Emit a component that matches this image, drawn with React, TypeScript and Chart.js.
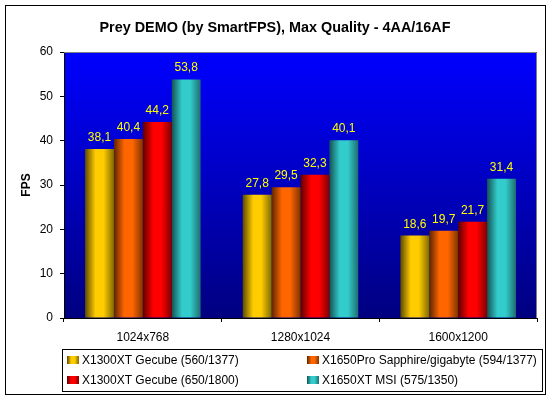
import React, { useEffect, useRef } from "react";
import { Chart, registerables } from "chart.js";

Chart.register(...registerables);

const titleText = "Prey DEMO (by SmartFPS), Max Quality - 4AA/16AF";
const yAxisTitle = "FPS";
const categories = ["1024x768", "1280x1024", "1600x1200"];
const seriesNames = [
  "X1300XT Gecube (560/1377)",
  "X1650Pro Sapphire/gigabyte (594/1377)",
  "X1300XT Gecube (650/1800)",
  "X1650XT MSI (575/1350)",
];
const series1 = [38.1, 27.8, 18.6];
const series2 = [40.4, 29.5, 19.7];
const series3 = [44.2, 32.3, 21.7];
const series4 = [53.8, 40.1, 31.4];
const seriesValues = [series1, series2, series3, series4];
const yTicks = [0, 10, 20, 30, 40, 50, 60];

const brightColors = ["#FFCC00", "#FF6600", "#FF0000", "#33CCCC"];
const leftDark = ["#5C4A00", "#5C2400", "#5C0000", "#145252"];
const rightDark = ["#806A00", "#803300", "#800000", "#1E6E6E"];

const FONT = "'Liberation Sans', Arial, sans-serif";

function barGradient(ctx: CanvasRenderingContext2D, x0: number, w: number, i: number) {
  const g = ctx.createLinearGradient(x0, 0, x0 + w, 0);
  g.addColorStop(0, leftDark[i]);
  g.addColorStop(0.36, brightColors[i]);
  g.addColorStop(0.64, brightColors[i]);
  g.addColorStop(1, rightDark[i]);
  return g;
}

const fmt = (v: number) => v.toFixed(1).replace(".", ",");

const decorPlugin = {
  id: "decor",
  beforeDraw(chart: any) {
    const { ctx, chartArea: a } = chart;
    ctx.save();
    const g = ctx.createLinearGradient(0, a.top, 0, a.bottom);
    g.addColorStop(0, "#0000FF");
    g.addColorStop(1, "#000080");
    ctx.fillStyle = g;
    ctx.fillRect(a.left, a.top, a.right - a.left, a.bottom - a.top);
    // outer border
    ctx.strokeStyle = "#000";
    ctx.lineWidth = 1;
    ctx.strokeRect(5.5, 5.5, 540, 389);
    // title
    ctx.fillStyle = "#000";
    ctx.font = `bold 14.4px ${FONT}`;
    ctx.textAlign = "center";
    ctx.textBaseline = "alphabetic";
    ctx.fillText(titleText, 275, 32);
    // y title
    ctx.save();
    ctx.translate(30, (a.top + a.bottom) / 2);
    ctx.rotate(-Math.PI / 2);
    ctx.font = `bold 12px ${FONT}`;
    ctx.fillText(yAxisTitle, 0, 0);
    ctx.restore();
    ctx.restore();
  },
  beforeDatasetsDraw(chart: any) {
    const { ctx, chartArea: a } = chart;
    ctx.save();
    ctx.strokeStyle = "#808080";
    ctx.lineWidth = 1;
    ctx.beginPath();
    ctx.moveTo(a.left, a.top + 0.5);
    ctx.lineTo(a.right - 0.5, a.top + 0.5);
    ctx.lineTo(a.right - 0.5, a.bottom);
    ctx.stroke();
    ctx.restore();
    chart.data.datasets.forEach((_: any, di: number) => {
      const meta = chart.getDatasetMeta(di);
      meta.data.forEach((el: any) => {
        const { x, width } = el.getProps(["x", "width"], true);
        el.options.backgroundColor = barGradient(ctx, x - width / 2, width, di);
      });
    });
  },
  afterDatasetsDraw(chart: any) {
    const { ctx } = chart;
    ctx.save();
    ctx.fillStyle = "#FFFF00";
    ctx.font = `12px ${FONT}`;
    ctx.textAlign = "center";
    ctx.textBaseline = "alphabetic";
    chart.data.datasets.forEach((ds: any, di: number) => {
      const meta = chart.getDatasetMeta(di);
      meta.data.forEach((el: any, i: number) => {
        const { x, y } = el.getProps(["x", "y"], true);
        ctx.fillText(fmt(ds.data[i]), x, y - 8);
      });
    });
    ctx.restore();
  },
  afterDraw(chart: any) {
    const { ctx } = chart;
    ctx.save();
    ctx.strokeStyle = "#000";
    ctx.lineWidth = 1;
    ctx.strokeRect(62.5, 349.5, 480, 42);
    ctx.font = `12px ${FONT}`;
    ctx.textAlign = "left";
    ctx.textBaseline = "middle";
    ctx.fillStyle = "#000";
    const cols = [67, 307];
    const rows = [356, 376];
    seriesNames.forEach((name, i) => {
      const cx = cols[i % 2];
      const ry = rows[Math.floor(i / 2)];
      ctx.fillStyle = barGradient(ctx, cx, 12, i);
      ctx.fillRect(cx, ry, 12, 8);
      ctx.fillStyle = "#000";
      ctx.fillText(name, cx + 15, ry + 4.5);
    });
    ctx.restore();
  },
};

export default function App() {
  const ref = useRef<HTMLCanvasElement>(null);
  useEffect(() => {
    if (!ref.current) return;
    Chart.defaults.font.family = FONT;
    const chart = new Chart(ref.current, {
      type: "bar",
      data: {
        labels: categories,
        datasets: seriesValues.map((vals, i) => ({
          label: seriesNames[i],
          data: vals,
          backgroundColor: () => brightColors[i],
          borderWidth: 0,
          categoryPercentage: 0.733,
          barPercentage: 1,
        })),
      },
      options: {
        responsive: false,
        animation: false,
        layout: { padding: { left: 0, top: 52, right: 14, bottom: 0 } },
        plugins: {
          legend: { display: false },
          title: { display: false },
          tooltip: { enabled: false },
        },
        scales: {
          x: {
            ticks: { color: "#000", font: { size: 12 }, padding: 8 },
            grid: { offset: true, drawOnChartArea: false, drawTicks: true, tickLength: 4, color: "#000" },
            border: { color: "#000" },
            afterFit: (s: any) => {
              s.height = 82;
            },
          },
          y: {
            min: 0,
            max: 60,
            afterBuildTicks: (s: any) => {
              s.ticks = yTicks.map((v) => ({ value: v }));
            },
            ticks: { color: "#000", font: { size: 12 }, padding: 7 },
            grid: { drawOnChartArea: false, drawTicks: true, tickLength: 4, color: "#000" },
            border: { color: "#000" },
            afterFit: (s: any) => {
              s.width = 64;
            },
          },
        },
      },
      plugins: [decorPlugin],
    });
    return () => chart.destroy();
  }, []);
  return (
    <div style={{ position: "absolute", left: 0, top: 0, width: 551, height: 400, background: "#fff" }}>
      <canvas ref={ref} width={551} height={400} style={{ display: "block" }} />
    </div>
  );
}
